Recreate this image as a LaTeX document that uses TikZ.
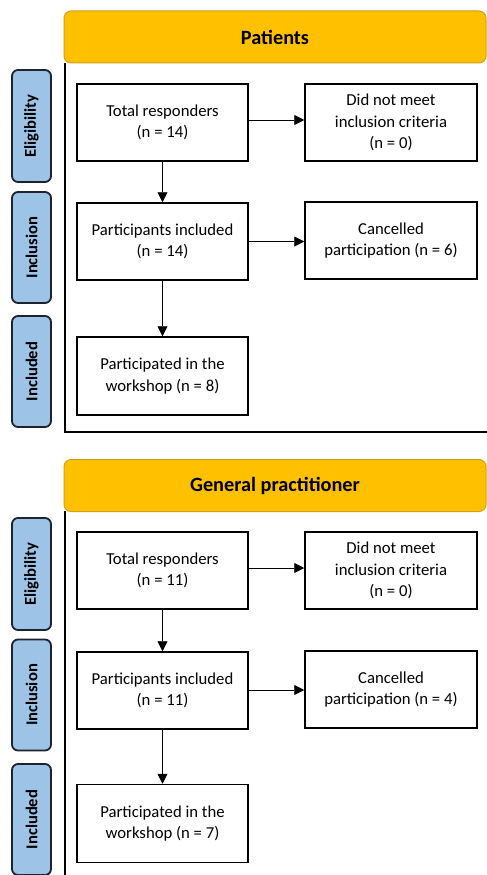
\documentclass[tikz,border=0pt]{standalone}
\usepackage{fontspec}
\setmainfont{Carlito}
\usetikzlibrary{arrows.meta}
\definecolor{hdrfill}{RGB}{255,192,0}
\definecolor{hdrdraw}{RGB}{214,160,20}
\definecolor{sidefill}{RGB}{157,195,230}
\definecolor{sidedraw}{RGB}{30,35,45}
\tikzset{
  hdr/.style={draw=hdrdraw, line width=1pt, fill=hdrfill, rounded corners=7pt,
    minimum width=422pt, minimum height=52pt, inner sep=0pt,
    font=\fontsize{20.3}{24}\selectfont\bfseries},
  side/.style={draw=sidedraw, line width=1.8pt, fill=sidefill, rounded corners=6pt,
    minimum width=39pt, inner sep=0pt, rotate=90,
    font=\fontsize{16.6}{18}\selectfont\bfseries},
  box/.style={draw=black, line width=1.5pt, fill=white, align=center,
    minimum width=171pt, minimum height=77pt, inner sep=2pt,
    font=\fontsize{16.7}{21.5}\selectfont},
  arr/.style={draw=black, line width=0.9pt, -{Triangle[length=10pt,width=10pt]}},
  frm/.style={draw=black, line width=1.5pt}
}
\begin{document}
\begin{tikzpicture}[x=1pt,y=-1pt]
\useasboundingbox (0,0) rectangle (487,875);
\fill[white] (0,0) rectangle (487,875);

% ---------- Patients ----------
\coordinate (f1a) at (65,63);
\coordinate (f1b) at (65,432);
\coordinate (f1c) at (488,432);
\draw[frm] (f1a) -- (f1b) -- (f1c);
\node[hdr] (h1) at (275,37) {Patients};

\node[side, minimum width=112pt, minimum height=39pt] (e1) at (31.5,126) {Eligibility};
\node[side, minimum width=111pt, minimum height=39pt] (i1) at (31.5,247.5) {Inclusion};
\node[side, minimum width=111pt, minimum height=39pt] (n1) at (31.5,371.5) {Included};

\node[box] (a1) at (162.5,122.5) {Total responders\\(n = 14)};
\node[box, minimum width=172pt] (a2) at (391,122.5) {Did not meet\\inclusion criteria\\(n = 0)};
\node[box] (b1) at (162.5,241.5) {Participants included\\(n = 14)};
\node[box, minimum width=172pt] (b2) at (391,240.5) {Cancelled\\participation (n = 6)};
\node[box, minimum height=78pt] (c1) at (162.5,376) {Participated in the\\workshop (n = 8)};

\draw[arr] (a1.south) -- (b1.north);
\draw[arr] (b1.south) -- (c1.north);
\draw[arr] (a1.east |- 0,120) -- (a2.west |- 0,120);
\draw[arr] (b1.east |- 0,241.5) -- (b2.west |- 0,241.5);

% ---------- General practitioner ----------
\coordinate (f2a) at (65,511);
\coordinate (f2b) at (65,880);
\draw[frm] (f2a) -- (f2b);
\node[hdr] (h2) at (275,485.5) {General practitioner};

\node[side, minimum width=112pt, minimum height=39pt] (e2) at (31.5,574) {Eligibility};
\node[side, minimum width=111pt, minimum height=39pt] (i2) at (31.5,695) {Inclusion};
\node[side, minimum width=111pt, minimum height=39pt] (n2) at (31.5,819.5) {Included};

\node[box] (a3) at (162.5,570.5) {Total responders\\(n = 11)};
\node[box, minimum width=172pt] (a4) at (391,570.5) {Did not meet\\inclusion criteria\\(n = 0)};
\node[box] (b3) at (162.5,690.5) {Participants included\\(n = 11)};
\node[box, minimum width=172pt] (b4) at (391,689.5) {Cancelled\\participation (n = 4)};
\node[box, minimum height=78pt] (c3) at (162.5,823.5) {Participated in the\\workshop (n = 7)};

\draw[arr] (a3.south) -- (b3.north);
\draw[arr] (b3.south) -- (c3.north);
\draw[arr] (a3.east |- 0,568) -- (a4.west |- 0,568);
\draw[arr] (b3.east |- 0,690) -- (b4.west |- 0,690);
\end{tikzpicture}
\end{document}
